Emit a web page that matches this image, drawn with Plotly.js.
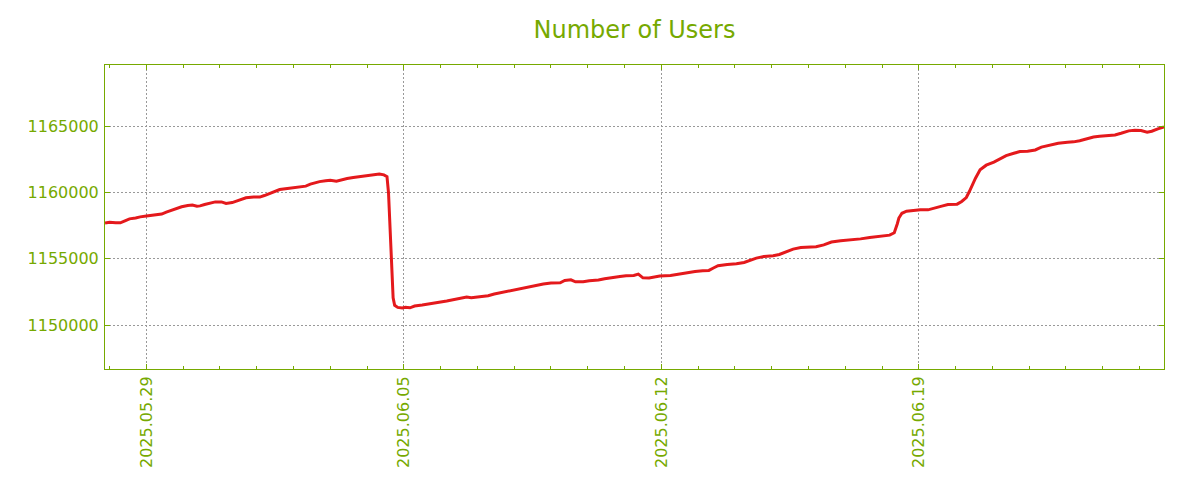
<!DOCTYPE html>
<html>
<head>
<meta charset="utf-8">
<script src="https://cdn.plot.ly/plotly-3.0.1.min.js"></script>
<style>html,body{margin:0;padding:0;background:#fff;}#chart{width:1200px;height:500px;}</style>
</head>
<body>
<div id="chart"></div>
<script>
const times = [
"2025-05-27 21:00","2025-05-28 00:00","2025-05-28 04:00","2025-05-28 07:00","2025-05-28 10:00","2025-05-28 13:00","2025-05-28 17:00","2025-05-28 20:00",
"2025-05-29 00:00","2025-05-29 04:00","2025-05-29 07:00","2025-05-29 10:00","2025-05-29 13:00","2025-05-29 17:00","2025-05-29 20:00","2025-05-29 23:00",
"2025-05-30 03:00","2025-05-30 06:00","2025-05-30 09:00","2025-05-30 11:00","2025-05-30 14:00","2025-05-30 18:00","2025-05-30 21:00",
"2025-05-31 01:00","2025-05-31 04:00","2025-05-31 08:00","2025-05-31 11:00","2025-05-31 14:00","2025-05-31 17:00","2025-05-31 22:00",
"2025-06-01 02:00","2025-06-01 05:00","2025-06-01 09:00","2025-06-01 12:00","2025-06-01 15:00","2025-06-01 20:00",
"2025-06-02 00:00","2025-06-02 04:00","2025-06-02 08:00","2025-06-02 11:00","2025-06-02 14:00","2025-06-02 17:00","2025-06-02 21:00",
"2025-06-03 00:00","2025-06-03 04:00","2025-06-03 08:00","2025-06-03 11:00","2025-06-03 15:00","2025-06-03 19:00",
"2025-06-04 00:00","2025-06-04 04:00","2025-06-04 08:00","2025-06-04 11:00","2025-06-04 13:00","2025-06-04 14:00","2025-06-04 15:00","2025-06-04 16:00","2025-06-04 17:00","2025-06-04 18:00","2025-06-04 20:00","2025-06-04 23:00",
"2025-06-05 01:00","2025-06-05 04:00","2025-06-05 07:00","2025-06-05 12:00","2025-06-05 17:00","2025-06-05 22:00",
"2025-06-06 04:00","2025-06-06 09:00","2025-06-06 14:00","2025-06-06 17:00","2025-06-06 20:00",
"2025-06-07 02:00","2025-06-07 07:00","2025-06-07 11:00","2025-06-07 16:00","2025-06-07 21:00",
"2025-06-08 02:00","2025-06-08 06:00","2025-06-08 10:00","2025-06-08 15:00","2025-06-08 19:00",
"2025-06-09 00:00","2025-06-09 06:00","2025-06-09 09:00","2025-06-09 13:00","2025-06-09 16:00","2025-06-09 21:00",
"2025-06-10 01:00","2025-06-10 07:00","2025-06-10 11:00","2025-06-10 17:00","2025-06-10 21:00",
"2025-06-11 01:00","2025-06-11 06:00","2025-06-11 09:00","2025-06-11 12:00","2025-06-11 16:00","2025-06-11 19:00","2025-06-11 23:00",
"2025-06-12 06:00","2025-06-12 11:00","2025-06-12 17:00","2025-06-12 22:00",
"2025-06-13 03:00","2025-06-13 07:00","2025-06-13 10:00","2025-06-13 13:00","2025-06-13 19:00",
"2025-06-14 01:00","2025-06-14 06:00","2025-06-14 10:00","2025-06-14 14:00","2025-06-14 19:00",
"2025-06-15 01:00","2025-06-15 05:00","2025-06-15 10:00","2025-06-15 14:00","2025-06-15 19:00",
"2025-06-16 01:00","2025-06-16 05:00","2025-06-16 10:00","2025-06-16 15:00","2025-06-16 21:00",
"2025-06-17 03:00","2025-06-17 10:00","2025-06-17 16:00","2025-06-17 23:00",
"2025-06-18 05:00","2025-06-18 08:00","2025-06-18 09:00","2025-06-18 10:00","2025-06-18 11:00","2025-06-18 12:00","2025-06-18 13:00","2025-06-18 16:00","2025-06-18 20:00",
"2025-06-19 01:00","2025-06-19 06:00","2025-06-19 11:00","2025-06-19 15:00","2025-06-19 19:00",
"2025-06-20 01:00","2025-06-20 04:00","2025-06-20 07:00","2025-06-20 09:00","2025-06-20 11:00","2025-06-20 13:00","2025-06-20 16:00","2025-06-20 20:00",
"2025-06-21 01:00","2025-06-21 05:00","2025-06-21 09:00","2025-06-21 14:00","2025-06-21 18:00","2025-06-21 23:00",
"2025-06-22 04:00","2025-06-22 08:00","2025-06-22 14:00","2025-06-22 19:00",
"2025-06-23 01:00","2025-06-23 05:00","2025-06-23 09:00","2025-06-23 14:00","2025-06-23 18:00","2025-06-23 22:00",
"2025-06-24 04:00","2025-06-24 08:00","2025-06-24 12:00","2025-06-24 17:00","2025-06-24 21:00",
"2025-06-25 01:00","2025-06-25 05:00","2025-06-25 08:00","2025-06-25 12:00","2025-06-25 16:00"
];
const users = [
1157690,1157760,1157710,1157710,1157860,1158010,1158070,1158160,
1158220,1158260,1158310,1158370,1158520,1158670,1158820,1158920,
1159020,1159050,1158970,1158990,1159090,1159220,1159290,
1159290,1159170,1159240,1159370,1159500,1159600,1159650,
1159650,1159770,1159950,1160100,1160220,1160300,
1160370,1160400,1160480,1160630,1160730,1160820,1160880,
1160930,1160850,1160980,1161050,1161130,1161200,
1161250,1161310,1161400,1161330,1161200,1159970,1156810,1154770,1152060,1151490,1151330,1151280,
1151340,1151300,1151430,1151510,1151580,1151700,
1151810,1151930,1152080,1152110,1152060,
1152130,1152210,1152340,1152460,1152580,
1152660,1152790,1152910,1153020,1153090,
1153170,1153190,1153360,1153410,1153260,1153260,
1153340,1153390,1153490,1153560,1153660,
1153720,1153740,1153840,1153560,1153540,1153620,1153690,
1153730,1153840,1153940,1154040,
1154090,1154120,1154300,1154470,1154570,
1154620,1154720,1154900,1155050,1155170,
1155220,1155320,1155550,1155730,1155850,
1155880,1155900,1156050,1156260,1156350,
1156410,1156500,1156600,1156710,
1156780,1156960,1157260,1157640,1158070,1158310,1158430,1158590,1158640,
1158690,1158690,1158820,1158970,1159090,
1159120,1159320,1159620,1160070,1160630,1161080,1161710,1162060,
1162290,1162540,1162780,1162960,1163090,1163120,
1163210,1163420,1163610,1163720,
1163790,1163820,1163910,1164070,1164190,1164250,
1164320,1164340,1164470,1164650,1164700,
1164670,1164550,1164620,1164800,1164950
];
const xTickVals = ["2025-05-29","2025-06-05","2025-06-12","2025-06-19"];
const xTickText = ["2025.05.29","2025.06.05","2025.06.12","2025.06.19"];
const yTickVals = [1150000,1155000,1160000,1165000];
const xRange = ["2025-05-27 21:00","2025-06-25 16:00"];
const yRange = [1146680,1169620];

const green = "#76a900";
const font = "DejaVu Sans, sans-serif";

const trace = {
  x: times, y: users, type: "scatter", mode: "lines",
  line: {color: "#e4191c", width: 3},
  hoverinfo: "x+y"
};

const layout = {
  width: 1200, height: 500,
  paper_bgcolor: "#ffffff", plot_bgcolor: "#ffffff",
  margin: {l: 105, r: 36, t: 65, b: 131},
  showlegend: false,
  title: {text: "Number of Users", font: {family: font, size: 24, color: green},
          x: 0.5, xref: "paper", xanchor: "center", y: 0.94, yref: "container", yanchor: "middle"},
  xaxis: {
    type: "date", range: xRange,
    tickmode: "array", tickvals: xTickVals, ticktext: xTickText,
    tickangle: -90, tickfont: {family: font, size: 16, color: green},
    ticks: "inside", ticklen: 5, tickcolor: green,
    showline: true, linecolor: green, linewidth: 1, mirror: "ticks",
    showgrid: true, gridcolor: "#999999", gridwidth: 1, griddash: "2px,2px",
    zeroline: false,
    minor: {dtick: 86400000, tick0: "2025-05-29", ticks: "inside", ticklen: 3, tickcolor: green, showgrid: false}
  },
  yaxis: {
    range: yRange,
    tickmode: "array", tickvals: yTickVals, ticktext: yTickVals.map(String),
    tickfont: {family: font, size: 16, color: green},
    ticks: "inside", ticklen: 5, tickcolor: green, ticklabelstandoff: 2,
    showline: true, linecolor: green, linewidth: 1, mirror: "ticks",
    showgrid: true, gridcolor: "#999999", gridwidth: 1, griddash: "2px,2px",
    zeroline: false
  }
};

Plotly.newPlot("chart", [trace], layout, {displayModeBar: false, staticPlot: true});
</script>
</body>
</html>
